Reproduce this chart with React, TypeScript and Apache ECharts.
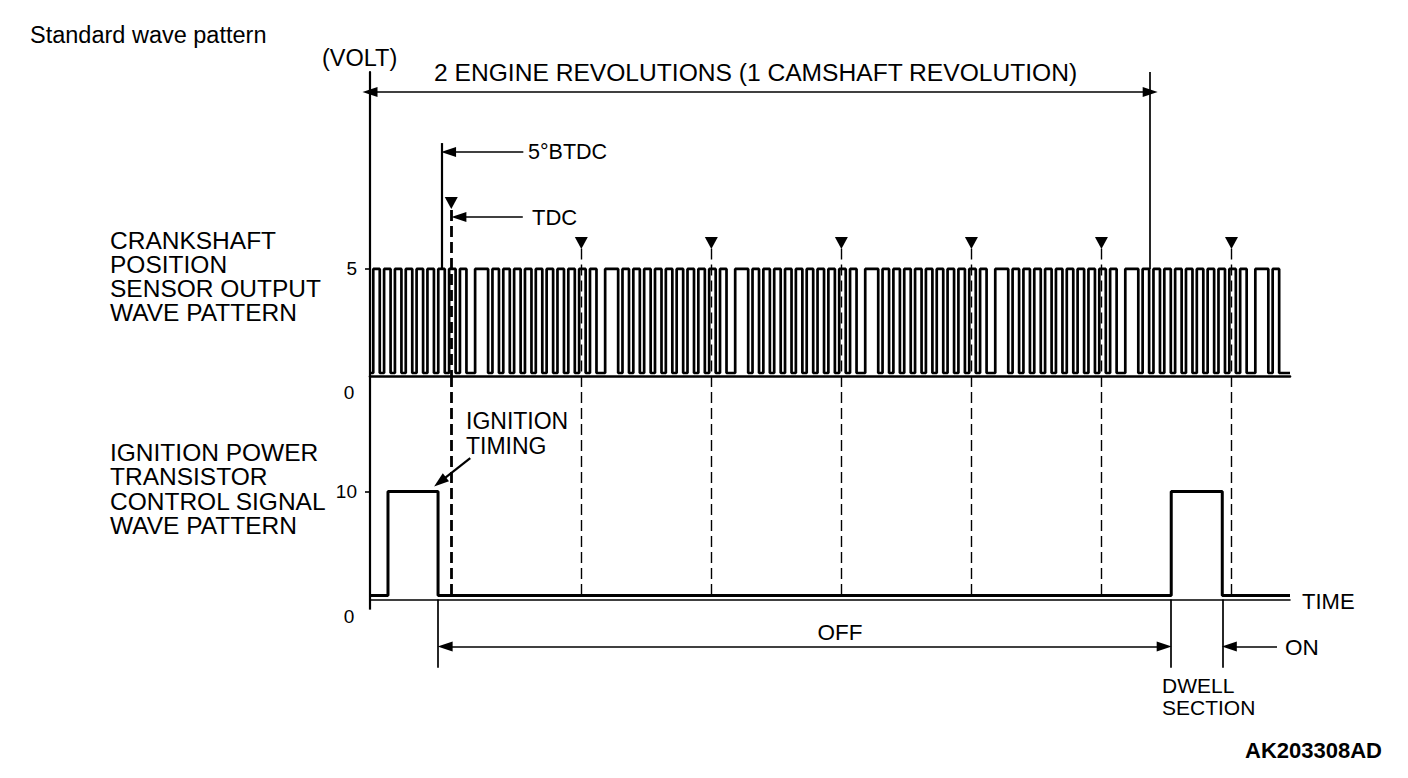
import React, { useEffect, useRef } from 'react';
import * as echarts from 'echarts';

const FONT = '"Liberation Sans", Arial, Helvetica, sans-serif';

// ---- data (x axis = crank angle in degrees, y axis = volts) ----
const X_MAX = 849;
const CAM_REV_DEG = 720; // 2 engine revolutions
const TDC_DEG = [75, 195, 315, 435, 555, 675, 795];
const BTDC_DEG = 66.5; // 5°BTDC reference line
// crank sensor: start angle of each tooth group
const CRANK_GROUP_STARTS = [-11, 109, 229, 349, 469, 589, 709, 829];
// one tooth group: [low duration, high duration] in degrees (10 teeth + missing-tooth gap)
const CRANK_GROUP_PATTERN: number[][] = [
  [4, 6], [4, 6], [4, 6], [4, 6], [4, 6],
  [4, 6], [4, 6], [4, 6], [4, 6], [4, 6],
  [8, 12],
];
const CRANK_END_DEG = 842;
const CRANK_HIGH_V = 5;
const CRANK_LOW_V = 0.14;
// ignition power transistor control signal
const IGN_TIMES = [0, 16.6, 62.8, 739.4, 786.5, 849];
const IGN_LEVELS = [0.37, 10, 0.37, 10, 0.37];
const TOP_Y_TICKS = [5];
const BOTTOM_Y_TICKS = [10];

// ---- axis ranges ----
const Y1_MAX = 14.2;
const Y2_MIN = -7;
const Y2_MAX = 20.7;

// annotation positions (axis units)
const HEADER_ARROW_V = 13.27;
const BTDC_TOP_V = 10.88;
const BTDC_ARROW_V = 10.46;
const BTDC_ARROW_FROM = 141.5;
const TDC_ARROW_V = 7.43;
const TDC_ARROW_FROM = 141;
const TRI_FIRST_V = 8.08;
const TRI_V = 6.21;
const DASH_FIRST_TOP_V = 7.75;
const DASH_TOP_V = 5.95;
const IGN_ARROW_FROM = [92.5, 13.1];
const IGN_ARROW_TO = [64.6, 10.9];
const SPAN_ARROW_V = -4.35;
const SPAN_LINE_BOTTOM_V = -6.3;
const ON_ARROW_FROM = 837;
const AXIS_STUB_V = -0.93;

function buildCrank(): number[][] {
  const pts: number[][] = [[0, CRANK_LOW_V]];
  CRANK_GROUP_STARTS.forEach((s) => {
    let t = s;
    CRANK_GROUP_PATTERN.forEach(([lo, hi]) => {
      const a = t + lo;
      const b = a + hi;
      t = b;
      if (b <= 0 || a >= CRANK_END_DEG) return;
      const a2 = Math.max(a, 0);
      const b2 = Math.min(b, CRANK_END_DEG);
      pts.push([a2, CRANK_LOW_V], [a2, CRANK_HIGH_V], [b2, CRANK_HIGH_V], [b2, CRANK_LOW_V]);
    });
  });
  pts.push([X_MAX, CRANK_LOW_V]);
  return pts;
}

function buildIgn(): number[][] {
  const pts: number[][] = [];
  for (let i = 0; i < IGN_LEVELS.length; i++) {
    pts.push([IGN_TIMES[i], IGN_LEVELS[i]], [IGN_TIMES[i + 1], IGN_LEVELS[i]]);
  }
  return pts;
}

const ARROW_SIZE = [10, 15];

function seg(x1: number, y1: number, x2: number, y2: number, lineStyle: any, startSym = 'none', endSym = 'none') {
  return [
    { coord: [x1, y1], symbol: startSym, symbolSize: ARROW_SIZE, lineStyle },
    { coord: [x2, y2], symbol: endSym, symbolSize: ARROW_SIZE },
  ];
}

function text(t: string, x: number, y: number, size: number, extra: any = {}) {
  return {
    type: 'text',
    x,
    y,
    silent: true,
    style: {
      text: t,
      fontFamily: FONT,
      fontSize: size,
      fill: '#000',
      verticalAlign: 'middle',
      align: 'left',
      ...extra,
    },
  };
}

export default function App() {
  const ref = useRef<HTMLDivElement>(null);
  useEffect(() => {
    if (!ref.current) return;
    const chart = echarts.init(ref.current, null, { renderer: 'svg' });
    const solid = { color: '#000', width: 2.2, type: 'solid' };
    const thin = { color: '#000', width: 1.7, type: 'solid' };
    const dashThin = { color: '#000', width: 1.4, type: [11, 5] };
    const dashThick = { color: '#000', width: 2.8, type: [11, 5] };

    const topMarks: any[] = [
      seg(0, HEADER_ARROW_V, CAM_REV_DEG, HEADER_ARROW_V, thin, 'triangle', 'triangle'),
      seg(CAM_REV_DEG, Y1_MAX, CAM_REV_DEG, CRANK_HIGH_V, thin),
      seg(BTDC_DEG, BTDC_TOP_V, BTDC_DEG, CRANK_HIGH_V, solid),
      seg(BTDC_ARROW_FROM, BTDC_ARROW_V, BTDC_DEG + 6, BTDC_ARROW_V, thin, 'none', 'triangle'),
      seg(TDC_ARROW_FROM, TDC_ARROW_V, TDC_DEG[0] + 7, TDC_ARROW_V, thin, 'none', 'triangle'),
    ];
    TDC_DEG.forEach((t, i) => {
      topMarks.push(seg(t, i === 0 ? DASH_FIRST_TOP_V : DASH_TOP_V, t, 0, i === 0 ? dashThick : dashThin));
    });

    const botMarks: any[] = [
      seg(0, Y2_MAX, 0, AXIS_STUB_V, solid),
      seg(IGN_ARROW_FROM[0], IGN_ARROW_FROM[1], IGN_ARROW_TO[0], IGN_ARROW_TO[1], { color: '#000', width: 2.2, type: 'solid' }, 'none', 'triangle'),
      seg(IGN_TIMES[2] + 6.5, SPAN_ARROW_V, IGN_TIMES[3] - 6.5, SPAN_ARROW_V, thin, 'triangle', 'triangle'),
      seg(ON_ARROW_FROM, SPAN_ARROW_V, IGN_TIMES[4] + 6.5, SPAN_ARROW_V, thin, 'none', 'triangle'),
      seg(IGN_TIMES[2], 0, IGN_TIMES[2], SPAN_LINE_BOTTOM_V, thin),
      seg(IGN_TIMES[3], 0, IGN_TIMES[3], SPAN_LINE_BOTTOM_V, thin),
      seg(IGN_TIMES[4], 0, IGN_TIMES[4], SPAN_LINE_BOTTOM_V, thin),
    ];
    TDC_DEG.forEach((t, i) => {
      botMarks.push(seg(t, Y2_MAX, t, 0, i === 0 ? dashThick : dashThin));
    });

    const markLineBase = {
      silent: true,
      symbol: 'none',
      label: { show: false },
      emphasis: { disabled: true },
      animation: false,
    };

    const axisX = (gi: number, w: number) => ({
      gridIndex: gi,
      type: 'value',
      min: 0,
      max: X_MAX,
      axisLine: { show: true, onZero: true, lineStyle: { color: '#000', width: w } },
      axisTick: { show: false },
      axisLabel: { show: false },
      splitLine: { show: false },
    });

    const labelStyle = { color: '#000', fontFamily: FONT, fontSize: 19, margin: 13 };

    chart.setOption({
      animation: false,
      backgroundColor: '#ffffff',
      grid: [
        { left: 370, top: 72, width: 920, height: 304 },
        { left: 370, top: 376, width: 920, height: 299.2 },
      ],
      xAxis: [axisX(0, 2.6), axisX(1, 1.6)],
      yAxis: [
        {
          gridIndex: 0,
          type: 'value',
          min: 0,
          max: Y1_MAX,
          axisLine: { show: true, lineStyle: { color: '#000', width: 2.2 } },
          axisTick: { show: true, customValues: TOP_Y_TICKS, length: 5, lineStyle: { color: '#000', width: 1.6 } },
          axisLabel: { show: true, customValues: TOP_Y_TICKS, ...labelStyle },
          splitLine: { show: false },
        },
        {
          gridIndex: 1,
          type: 'value',
          min: Y2_MIN,
          max: Y2_MAX,
          axisLine: { show: false },
          axisTick: { show: true, customValues: BOTTOM_Y_TICKS, length: 5, lineStyle: { color: '#000', width: 1.6 } },
          axisLabel: { show: true, customValues: BOTTOM_Y_TICKS, ...labelStyle },
          splitLine: { show: false },
        },
      ],
      series: [
        {
          name: 'crank',
          type: 'line',
          xAxisIndex: 0,
          yAxisIndex: 0,
          data: buildCrank(),
          showSymbol: false,
          symbol: 'none',
          clip: false,
          lineStyle: { color: '#000', width: 2.7 },
          markLine: { ...markLineBase, data: topMarks },
          z: 3,
        },
        {
          name: 'tdc',
          type: 'scatter',
          xAxisIndex: 0,
          yAxisIndex: 0,
          data: TDC_DEG.map((t, i) => [t, i === 0 ? TRI_FIRST_V : TRI_V]),
          symbol: 'triangle',
          symbolRotate: 180,
          symbolSize: [13, 12],
          itemStyle: { color: '#000', opacity: 1 },
          silent: true,
          z: 4,
        },
        {
          name: 'ignition',
          type: 'line',
          xAxisIndex: 1,
          yAxisIndex: 1,
          data: buildIgn(),
          showSymbol: false,
          symbol: 'none',
          clip: false,
          lineStyle: { color: '#000', width: 3 },
          markLine: { ...markLineBase, data: botMarks },
          z: 3,
        },
      ],
      graphic: [
        text('Standard wave pattern', 30, 35, 23.5),
        text('(VOLT)', 322, 58, 23.5),
        text('2 ENGINE REVOLUTIONS (1 CAMSHAFT REVOLUTION)', 434, 72, 24.6),
        text('5°BTDC', 528, 152, 21.5),
        text('TDC', 532, 217, 22),
        text('CRANKSHAFT\nPOSITION\nSENSOR OUTPUT\nWAVE PATTERN', 110, 228, 24.5, { verticalAlign: 'top', lineHeight: 24.2 }),
        text('IGNITION POWER\nTRANSISTOR\nCONTROL SIGNAL\nWAVE PATTERN', 110, 440, 24.5, { verticalAlign: 'top', lineHeight: 24.4 }),
        text('IGNITION\nTIMING', 466, 408, 23, { verticalAlign: 'top', lineHeight: 25 }),
        text('0', 349, 392, 19, { align: 'center' }),
        text('0', 349, 616, 19, { align: 'center' }),
        text('OFF', 840, 632, 22.5, { align: 'center' }),
        text('ON', 1285, 647, 22.5),
        text('TIME', 1302, 601, 22),
        text('DWELL', 1162, 685, 21),
        text('SECTION', 1162, 707, 21),
        text('AK203308AD', 1245, 750, 22, { fontWeight: 'bold' }),
      ],
    });
    return () => chart.dispose();
  }, []);
  return (
    <div
      ref={ref}
      style={{ position: 'fixed', left: 0, top: 0, width: 1408, height: 778, background: '#fff' }}
    />
  );
}
